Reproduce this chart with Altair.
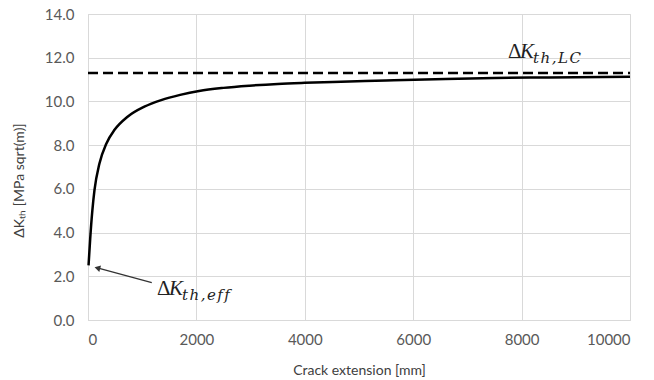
import altair as alt
import pandas as pd

# Curve
crack_ext = [10, 40, 80, 120, 210, 340, 490, 730, 1040, 1350, 1700, 2050, 2500,
             2980, 3500, 4000, 4820, 5500, 6600, 7500, 8500, 10000]
dk_th = [2.5, 3.7, 5.0, 5.95, 7.15, 8.08, 8.7, 9.3, 9.76, 10.06, 10.3, 10.48,
         10.62, 10.72, 10.8, 10.85, 10.91, 10.96, 11.03, 11.07, 11.1, 11.13]

# Long-crack threshold (dashed)
lc_x = [0, 10000]
lc_y = [11.3, 11.3]

# Arrow (tail -> head)
arrow_x = [1177, 190]
arrow_y = [1.71, 2.37]

# Label anchors
eff_pos = (1273, 1.14)
lc_pos = (7749, 11.99)

x_ticks = [0, 2000, 4000, 6000, 8000, 10000]
y_ticks = [0, 2, 4, 6, 8, 10, 12, 14]

curve_df = pd.DataFrame({"x": crack_ext, "y": dk_th})
lc_df = pd.DataFrame({"x": lc_x, "y": lc_y})
arrow_df = pd.DataFrame({"x": [arrow_x[0]], "y": [arrow_y[0]], "x2": [arrow_x[1]], "y2": [arrow_y[1]]})
head_df = pd.DataFrame({"x": [arrow_x[1]], "y": [arrow_y[1]]})
eff_df = pd.DataFrame({"x": [eff_pos[0]], "y": [eff_pos[1]]})
lcl_df = pd.DataFrame({"x": [lc_pos[0]], "y": [lc_pos[1]]})

GRAY = "#595959"
GRID = "#d9d9d9"

xs = alt.Scale(domain=[0, 10000], nice=False)
ys = alt.Scale(domain=[0, 14], nice=False)

x_axis = alt.Axis(values=x_ticks, title="Crack extension [mm]", format="d",
                  grid=True, gridColor=GRID, domainColor=GRID, ticks=False,
                  labelFont="Lato", labelFontSize=15, labelColor=GRAY, labelPadding=12,
                  titleFont="Lato", titleFontSize=14, titleFontWeight="normal",
                  titleColor="#404040", titlePadding=16)
y_axis = alt.Axis(values=y_ticks, title="ΔKₜₕ [MPa sqrt(m)]", format=".1f",
                  grid=True, gridColor=GRID, domainColor=GRID, ticks=False,
                  labelFont="Lato", labelFontSize=15, labelColor=GRAY, labelPadding=14,
                  titleFont="Lato", titleFontSize=14, titleFontWeight="normal",
                  titleColor="#404040", titleX=-69, titleY=166,
                  titleBaseline="middle", titleAngle=-90, titleAlign="center")

curve = alt.Chart(curve_df).mark_line(color="black", strokeWidth=2.5, interpolate="monotone").encode(
    x=alt.X("x:Q", scale=xs, axis=x_axis),
    y=alt.Y("y:Q", scale=ys, axis=y_axis),
)

lc_line = alt.Chart(lc_df).mark_line(color="black", strokeWidth=2.5, strokeDash=[10, 5]).encode(
    x=alt.X("x:Q", scale=xs), y=alt.Y("y:Q", scale=ys)
)

arrow = alt.Chart(arrow_df).mark_rule(color="#333333", strokeWidth=1.2).encode(
    x=alt.X("x:Q", scale=xs), y=alt.Y("y:Q", scale=ys), x2="x2:Q", y2="y2:Q"
)
head = alt.Chart(head_df).mark_point(shape="triangle", filled=True, color="#333333",
                                     size=45, angle=285, opacity=1).encode(
    x=alt.X("x:Q", scale=xs), y=alt.Y("y:Q", scale=ys)
)


def math_label(df, sub):
    base = alt.Chart(df).encode(x=alt.X("x:Q", scale=xs), y=alt.Y("y:Q", scale=ys))
    delta = base.mark_text(text="Δ", font="Liberation Serif", fontSize=21, align="left",
                           baseline="alphabetic", color="#222222")
    k = base.mark_text(text="K", font="Liberation Serif", fontStyle="italic", fontSize=21,
                       align="left", baseline="alphabetic", dx=12, color="#222222")
    s = base.mark_text(text=sub, font="DejaVu Serif", fontStyle="italic", fontSize=15,
                       align="left", baseline="alphabetic", dx=25, dy=5, color="#222222")
    return delta + k + s


eff_label = math_label(eff_df, "t\u200ah\u200a,\u200ae\u200af\u200af")
lc_label = math_label(lcl_df, "t\u200ah\u200a,\u200aL\u200aC")

chart = alt.layer(curve, lc_line, arrow, head, eff_label, lc_label).properties(
    width=542, height=306,
    autosize=alt.AutoSizeParams(type="none"),
    padding={"left": 88, "top": 14, "right": 24, "bottom": 60},
).configure_view(stroke=None).configure(background="white")

chart.save("out.html", embed_options={"renderer": "svg", "actions": False})
